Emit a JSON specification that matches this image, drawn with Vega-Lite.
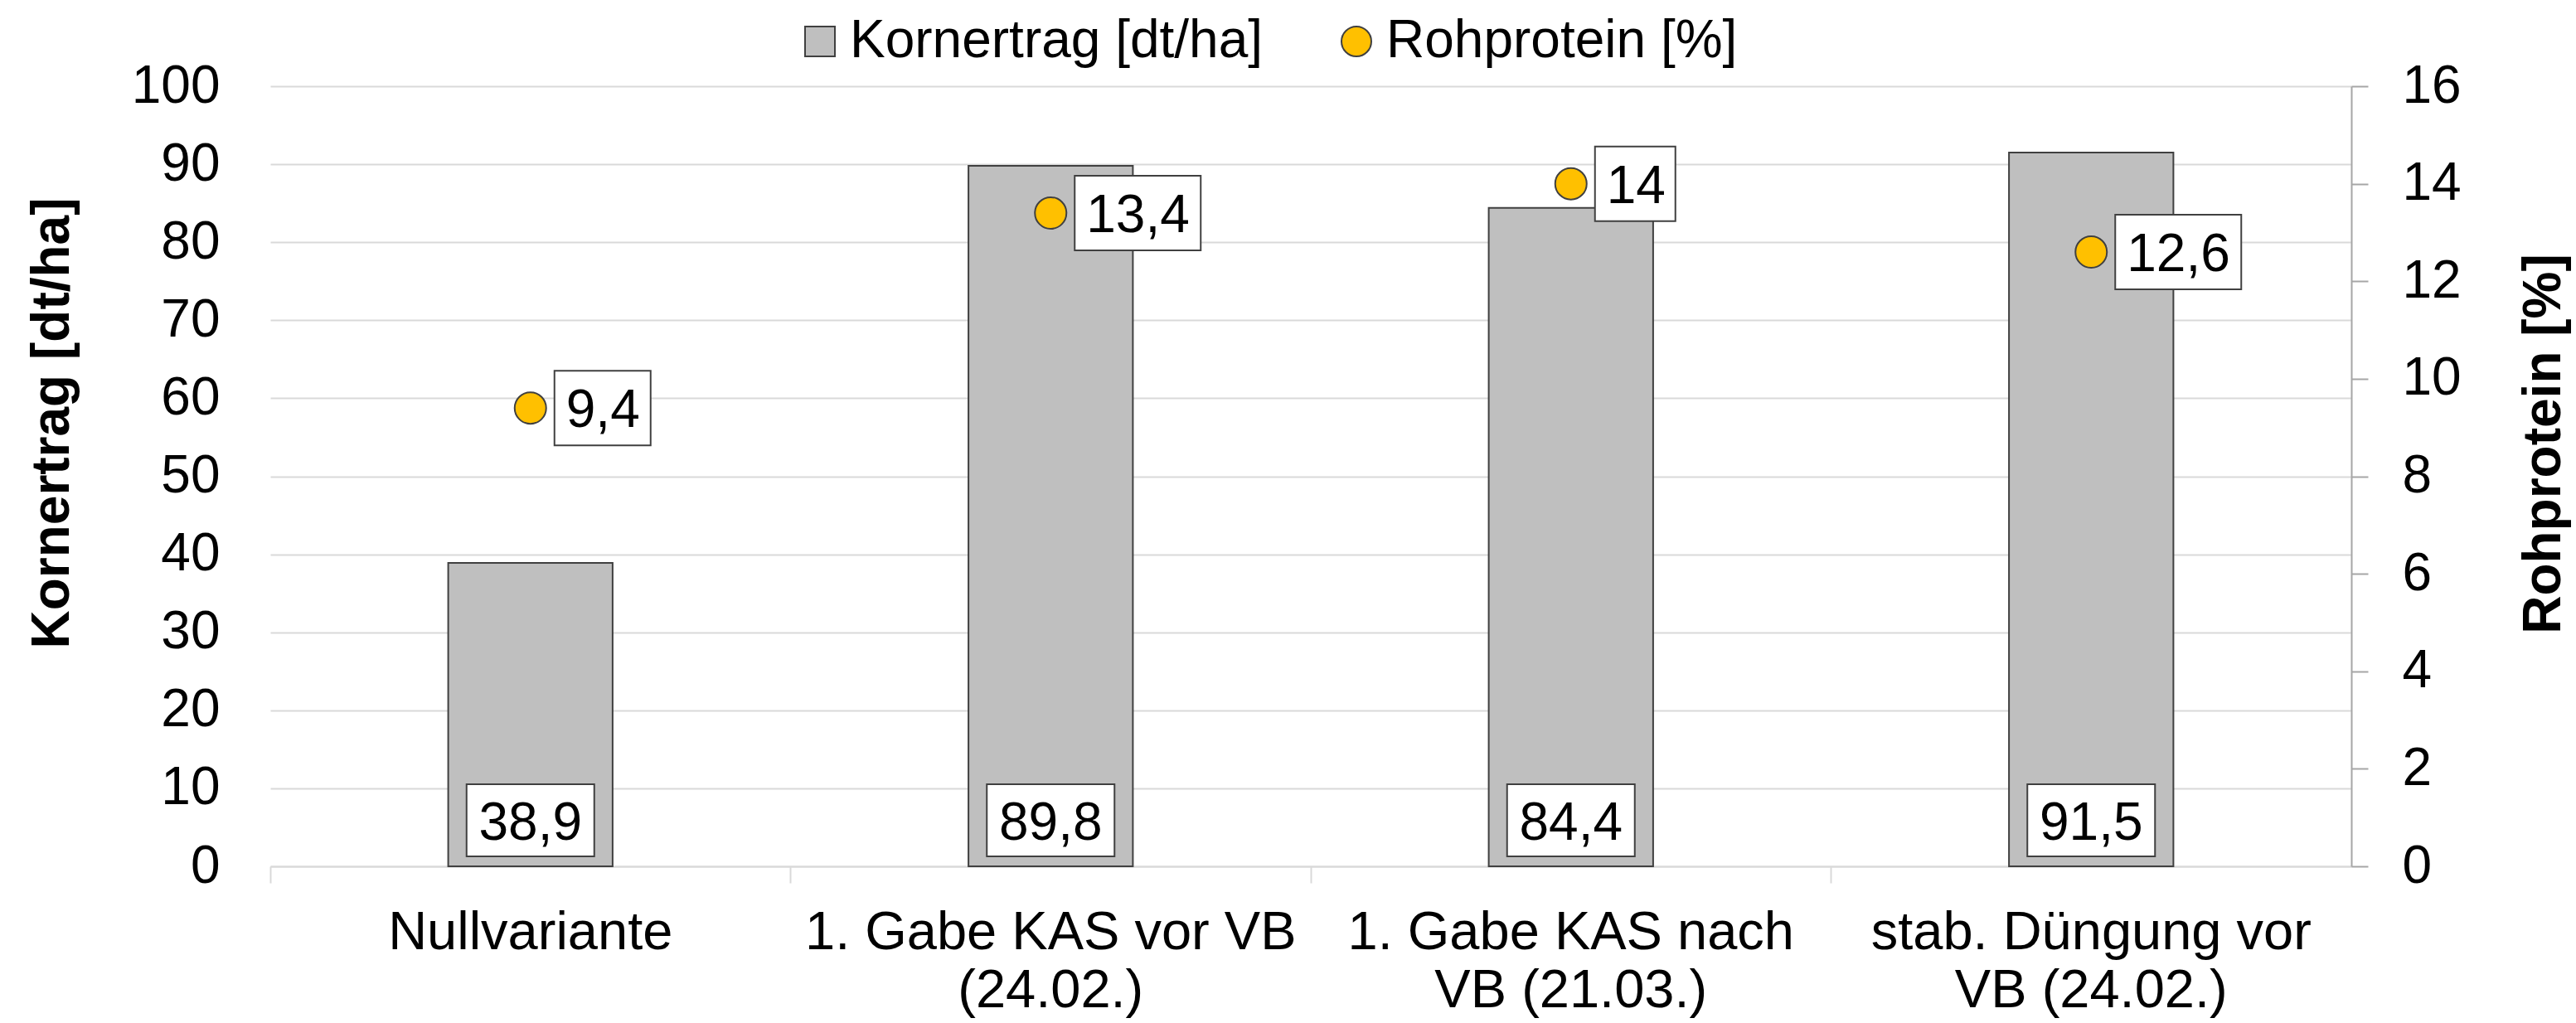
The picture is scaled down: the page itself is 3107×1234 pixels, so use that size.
{
  "$schema": "https://vega.github.io/schema/vega-lite/v6.json",
  "width": 2510,
  "height": 941,
  "autosize": "none",
  "padding": {"left": 326, "top": 104, "right": 271, "bottom": 189},
  "background": "white",
  "config": {
    "font": "Liberation Sans",
    "view": {"stroke": null},
    "axis": {"labelColor": "black", "titleColor": "black", "labelFont": "Liberation Sans", "titleFont": "Liberation Sans"}
  },
  "data": {
    "values": [
      {"Variante": "Nullvariante", "Kornertrag": 38.9, "Rohprotein": 9.4, "KLabel": "38,9", "RLabel": "9,4"},
      {"Variante": "1. Gabe KAS vor VB\n(24.02.)", "Kornertrag": 89.8, "Rohprotein": 13.4, "KLabel": "89,8", "RLabel": "13,4"},
      {"Variante": "1. Gabe KAS nach\nVB (21.03.)", "Kornertrag": 84.4, "Rohprotein": 14, "KLabel": "84,4", "RLabel": "14"},
      {"Variante": "stab. Düngung vor\nVB (24.02.)", "Kornertrag": 91.5, "Rohprotein": 12.6, "KLabel": "91,5", "RLabel": "12,6"}
    ]
  },
  "encoding": {
    "x": {
      "field": "Variante",
      "type": "nominal",
      "sort": null,
      "scale": {"paddingInner": 0, "paddingOuter": 0},
      "axis": {
        "title": null,
        "labelAngle": 0,
        "labelFontSize": 65,
        "labelLimit": 1000,
        "labelExpr": "split(datum.label, '\\n')",
        "labelLineHeight": 70,
        "labelPadding": 28,
        "labelBaseline": "top",
        "tickSize": 20,
        "tickColor": "#d9d9d9",
        "tickWidth": 2,
        "domainColor": "#d9d9d9",
        "domainWidth": 2,
        "bandPosition": 0
      }
    }
  },
  "layer": [
    {
      "encoding": {
        "y": {
          "field": "Kornertrag",
          "type": "quantitative",
          "scale": {"domain": [0, 100], "nice": false},
          "axis": {
            "title": "Kornertrag [dt/ha]",
            "orient": "left",
            "values": [0, 10, 20, 30, 40, 50, 60, 70, 80, 90, 100],
            "grid": true,
            "gridColor": "#d9d9d9",
            "gridWidth": 2,
            "domain": false,
            "ticks": false,
            "tickSize": 0,
            "labelPadding": 61,
            "labelFontSize": 64,
            "titleFontSize": 64,
            "titleFontWeight": "bold",
            "titleAngle": 270,
            "titleX": -263,
            "titleY": 406,
            "titleAlign": "center",
            "titleBaseline": "middle"
          }
        }
      },
      "layer": [
        {
          "mark": {"type": "bar", "width": {"band": 0.316}, "stroke": "#404040", "strokeWidth": 2},
          "encoding": {
            "color": {
              "datum": "Kornertrag [dt/ha]",
              "type": "nominal",
              "scale": {"domain": ["Kornertrag [dt/ha]", "Rohprotein [%]"], "range": ["#bfbfbf", "#ffc000"]},
              "legend": {
                "orient": "none",
                "legendX": 631,
                "legendY": -86,
                "direction": "horizontal",
                "title": null,
                "labelFontSize": 64,
                "labelColor": "black",
                "labelLimit": 1000,
                "symbolSize": 1296,
                "symbolStrokeColor": "#404040",
                "symbolStrokeWidth": 2,
                "symbolOpacity": 1,
                "labelOffset": 4,
                "columnPadding": 80,
                "encode": {"symbols": {"update": {"shape": {"signal": "datum.value === 'Rohprotein [%]' ? 'circle' : 'square'"}}}}
              }
            }
          }
        },
        {
          "mark": {"type": "point", "shape": "M-1.54,-1.98L1.54,-1.98L1.54,-0.24L-1.54,-0.24Z", "size": 10000, "filled": true, "fill": "white", "stroke": "#404040", "strokeWidth": 2, "opacity": 1},
          "encoding": {"y": {"datum": 0, "type": "quantitative"}}
        },
        {
          "mark": {"type": "text", "fontSize": 64, "baseline": "middle", "align": "center", "dy": -51, "color": "black"},
          "encoding": {"y": {"datum": 0, "type": "quantitative"}, "text": {"field": "KLabel"}}
        }
      ]
    },
    {
      "encoding": {
        "y": {
          "field": "Rohprotein",
          "type": "quantitative",
          "scale": {"domain": [0, 16], "nice": false},
          "axis": {
            "title": "Rohprotein [%]",
            "orient": "right",
            "values": [0, 2, 4, 6, 8, 10, 12, 14, 16],
            "grid": false,
            "domain": true,
            "domainColor": "#a6a6a6",
            "domainWidth": 2,
            "ticks": true,
            "tickColor": "#a6a6a6",
            "tickWidth": 2,
            "tickSize": 20,
            "labelPadding": 41,
            "labelFontSize": 64,
            "titleFontSize": 64,
            "titleFontWeight": "bold",
            "titleAngle": 270,
            "titleX": 232,
            "titleY": 431,
            "titleAlign": "center",
            "titleBaseline": "middle"
          }
        }
      },
      "layer": [
        {
          "mark": {"type": "point", "filled": true, "size": 1444, "stroke": "#404040", "strokeWidth": 2, "opacity": 1},
          "encoding": {"color": {"datum": "Rohprotein [%]", "type": "nominal"}}
        },
        {
          "mark": {"type": "point", "size": 10000, "filled": true, "fill": "white", "stroke": "#404040", "strokeWidth": 2, "opacity": 1},
          "encoding": {
            "shape": {
              "field": "RLabel",
              "type": "nominal",
              "scale": {
                "domain": ["9,4", "13,4", "14", "12,6"],
                "range": [
                  "M0.58,-0.9L2.9,-0.9L2.9,0.9L0.58,0.9Z",
                  "M0.58,-0.9L3.62,-0.9L3.62,0.9L0.58,0.9Z",
                  "M0.58,-0.9L2.52,-0.9L2.52,0.9L0.58,0.9Z",
                  "M0.58,-0.9L3.62,-0.9L3.62,0.9L0.58,0.9Z"
                ]
              },
              "legend": null
            }
          }
        },
        {
          "mark": {"type": "text", "fontSize": 64, "align": "left", "baseline": "middle", "dx": 43, "dy": 4, "color": "black"},
          "encoding": {"text": {"field": "RLabel"}}
        }
      ]
    }
  ],
  "resolve": {"scale": {"y": "independent"}}
}
